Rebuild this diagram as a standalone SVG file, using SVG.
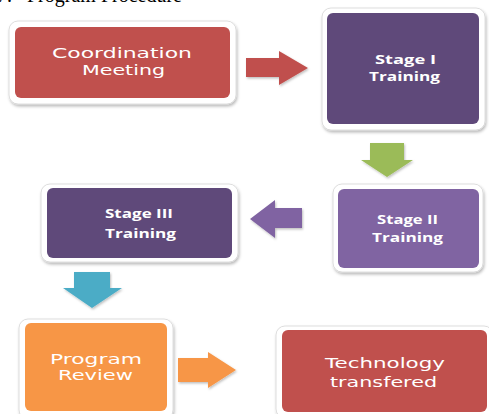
<svg xmlns="http://www.w3.org/2000/svg" width="489" height="414" viewBox="0 0 489 414">
<defs>
<filter id="sh" x="-10%" y="-10%" width="125%" height="130%">
<feDropShadow dx="1" dy="2" stdDeviation="1.6" flood-color="#000" flood-opacity="0.28"/>
</filter>
<filter id="ash" x="-20%" y="-20%" width="150%" height="150%">
<feDropShadow dx="1" dy="1.5" stdDeviation="1.2" flood-color="#000" flood-opacity="0.25"/>
</filter>
</defs>
<style>
.frame{fill:#fff;stroke:#d6d6d6;stroke-width:0.8;filter:url(#sh)}
.t1{font-family:"DejaVu Sans","Verdana",sans-serif;font-size:14px;fill:#fff}
.t2{font-family:"Open Sans","Liberation Sans",sans-serif;font-weight:bold;font-size:13px;fill:#fff}
.red{fill:#C0504D}
.dp{fill:#5F497A}
.lp{fill:#8064A2}
.or{fill:#F79646}
.title{font-family:"Liberation Serif","Times New Roman",serif;font-size:20px;fill:#000}
</style>
<rect width="489" height="414" fill="#fff"/>
<text class="title" y="1.5"><tspan x="-3">7.</tspan><tspan x="27">Program Procedure</tspan></text>

<g id="connectors">
<polygon filter="url(#ash)" fill="#C0504D" points="246,58 279,58 279,51 308,68 279,85 279,77 246,77"/>
<polygon filter="url(#ash)" fill="#9BBB59" points="370,143 404,143 404,160 413,160 387,177 361,160 370,160"/>
<polygon filter="url(#ash)" fill="#8064A2" points="302,208 275,208 275,200 250,219 275,238 275,228 302,228"/>
<polygon filter="url(#ash)" fill="#4BACC6" points="74,272 110,272 110,288 122,288 92,308 63,288 74,288"/>
<polygon filter="url(#ash)" fill="#F79646" points="178,358 208,358 208,352 236,370 208,388 208,382 178,382"/>
</g>

<g id="coordination">
<rect class="frame" x="9" y="21" width="227" height="83" rx="9"/>
<rect class="red" x="15" y="27" width="215" height="71" rx="6"/>
<text class="t1" x="52" y="58" textLength="140" lengthAdjust="spacingAndGlyphs">Coordination</text>
<text class="t1" x="82" y="75" textLength="83" lengthAdjust="spacingAndGlyphs">Meeting</text>
</g>

<g id="stage1">
<rect class="frame" x="322" y="8" width="163" height="122" rx="9"/>
<rect class="dp" x="327" y="13" width="152" height="111" rx="6"/>
<text class="t2" x="375" y="64" textLength="61" lengthAdjust="spacingAndGlyphs">Stage I</text>
<text class="t2" x="369" y="81" textLength="71" lengthAdjust="spacingAndGlyphs">Training</text>
</g>

<g id="stage2">
<rect class="frame" x="333" y="184" width="150" height="88" rx="9"/>
<rect class="lp" x="338" y="189" width="141" height="79" rx="6"/>
<text class="t2" x="377" y="224" textLength="61" lengthAdjust="spacingAndGlyphs">Stage II</text>
<text class="t2" x="372" y="242" textLength="71" lengthAdjust="spacingAndGlyphs">Training</text>
</g>

<g id="stage3">
<rect class="frame" x="41" y="184" width="197" height="78" rx="9"/>
<rect class="dp" x="47" y="188" width="185" height="70" rx="6"/>
<text class="t2" x="105" y="218" textLength="68" lengthAdjust="spacingAndGlyphs">Stage III</text>
<text class="t2" x="105" y="238" textLength="71" lengthAdjust="spacingAndGlyphs">Training</text>
</g>

<g id="review">
<rect class="frame" x="19" y="319" width="154" height="100" rx="9"/>
<rect class="or" x="25" y="323" width="142" height="88" rx="6"/>
<text class="t1" x="50" y="364" textLength="92" lengthAdjust="spacingAndGlyphs">Program</text>
<text class="t1" x="58" y="380" textLength="75" lengthAdjust="spacingAndGlyphs">Review</text>
</g>

<g id="technology">
<rect class="frame" x="276" y="326" width="217" height="92" rx="9"/>
<rect class="red" x="282" y="330" width="205" height="82" rx="6"/>
<text class="t1" x="325" y="368" textLength="120" lengthAdjust="spacingAndGlyphs">Technology</text>
<text class="t1" x="330" y="387" textLength="107" lengthAdjust="spacingAndGlyphs">transfered</text>
</g>
</svg>
